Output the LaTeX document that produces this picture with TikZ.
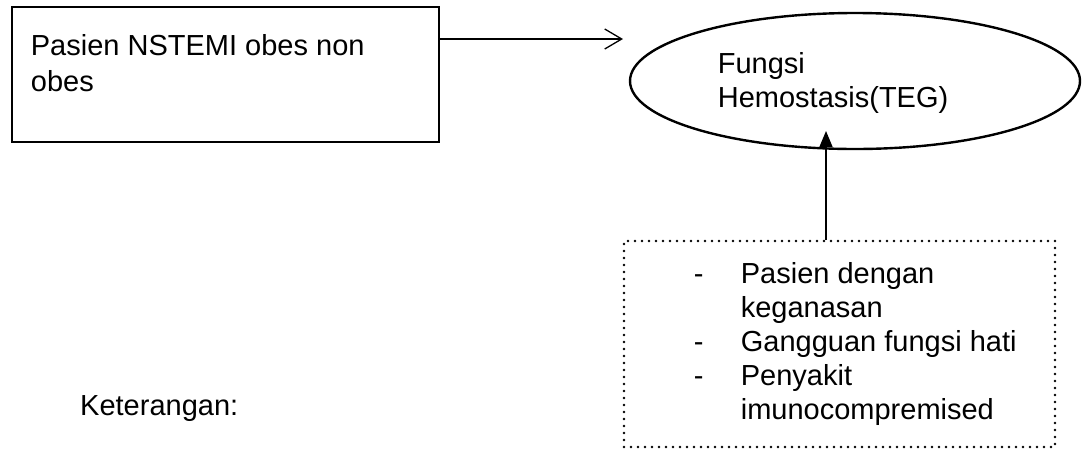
\documentclass[tikz,border=0pt]{standalone}
\usepackage{fontspec}
\setmainfont{Liberation Sans}
\usepackage{tikz}
\usetikzlibrary{shapes.geometric,arrows.meta}
\tikzstyle{txt}=[inner sep=0pt,anchor=north west,
                 font=\fontsize{29}{34}\selectfont]
\tikzstyle{kotak}=[rectangle,draw=black,line width=2.6pt,
                   minimum width=427pt,minimum height=135pt]
\tikzstyle{elips}=[ellipse,draw=black,line width=2.4pt,inner sep=0pt,
                   minimum width=450pt,minimum height=136pt]
\tikzstyle{titik}=[rectangle,draw=black,line width=2.9pt,line cap=round,
                   dash pattern=on 0pt off 7pt,
                   minimum width=431pt,minimum height=206pt]

\begin{document}
\begin{tikzpicture}[x=1pt,y=-1pt]
    \useasboundingbox (0,0) rectangle (1085,448);
    \node (pasien) at (225.5, 74.5) [kotak]{};
    \node (hemo) at (855, 81) [elips]{};
    \node (faktor) at (839.5, 344) [titik]{};
    \node (pasientxt) at (30.7, 31.2) [txt]
      {\begin{tabular}{@{}l@{}}Pasien NSTEMI obes non\\[2.7pt] obes\end{tabular}};
    \node (hemotxt) at (717.7, 49.2) [txt]
      {\begin{tabular}{@{}l@{}}Fungsi\\[0.5pt] Hemostasis(TEG)\end{tabular}};
    \node (faktortxt) at (693.7, 259.5) [txt]
      {\begin{tabular}{@{}l@{\hspace{37.3pt}}l@{}}
        - & Pasien dengan\\
          & keganasan\\
        - & Gangguan fungsi hati\\
        - & Penyakit\\
          & imunocompremised
       \end{tabular}};
    \node (ket) at (80, 415) [txt,anchor=base west]{Keterangan:};
    \coordinate (hemotip) at (623, 39);
    \coordinate (tegtip) at (826, 131);
    \draw[line width=1.3pt,-{Straight Barb[length=17pt,width=20pt]}]
      (pasien.east |- hemotip) -- (hemotip);
    \draw[line width=1.3pt,-{Triangle[length=16pt,width=13pt]}]
      (faktor.north -| tegtip) -- (tegtip);
\end{tikzpicture}
\end{document}
